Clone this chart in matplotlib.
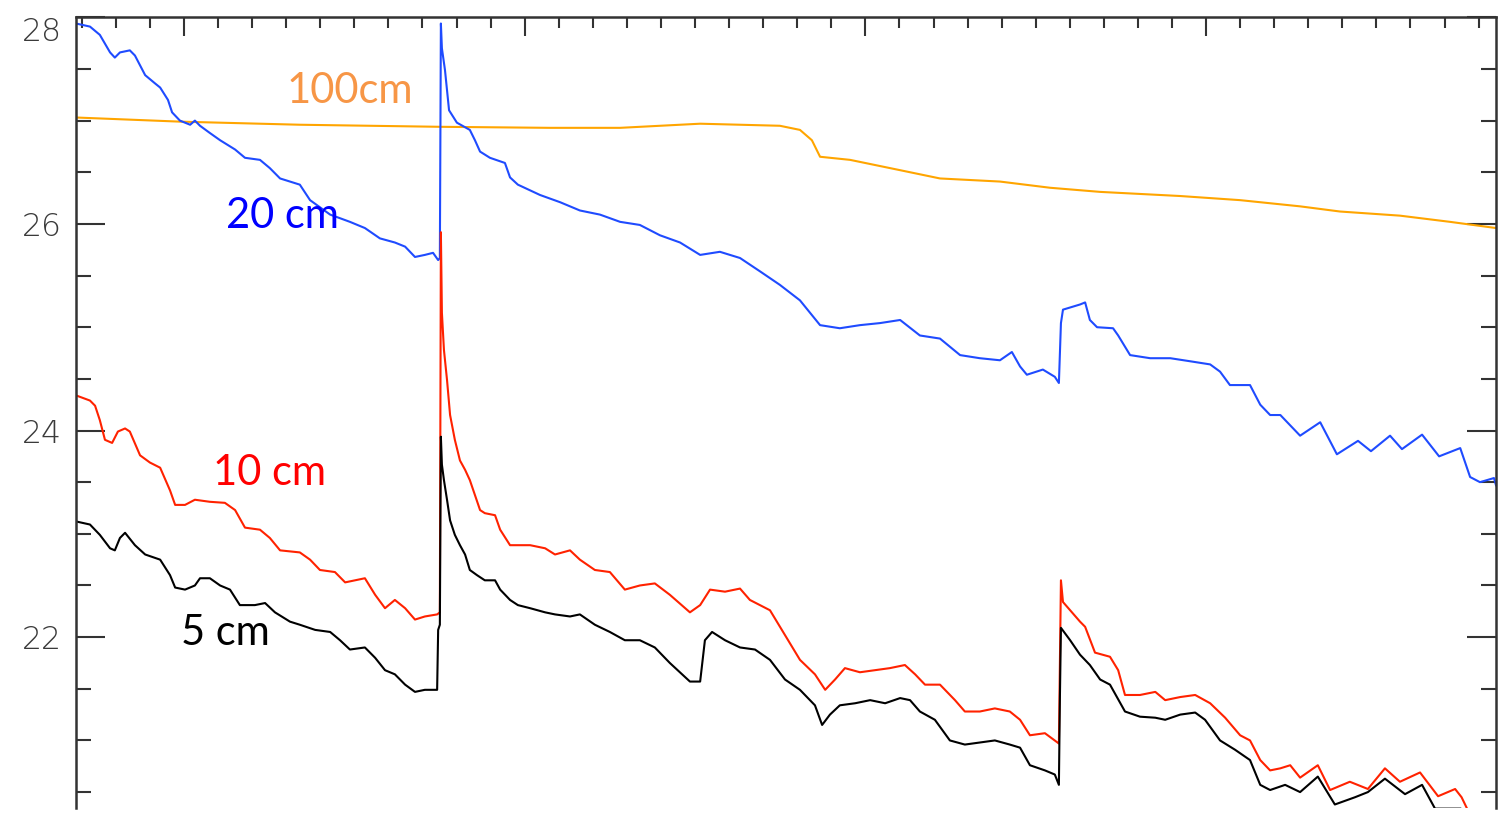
import matplotlib
matplotlib.use("Agg")
import matplotlib.pyplot as plt
from matplotlib.ticker import MultipleLocator, FixedLocator

# ---------------- data (day, temperature degC) ----------------
x_100 = [146.83, 149.88, 153.40, 157.51, 160.74, 162.80, 165.15, 167.49, 168.08,
         168.43, 168.67, 169.55, 171.02, 172.19, 173.95, 175.42, 176.89, 179.24,
         181.00, 182.76, 183.93, 185.69, 187.16, 188.51]
t_100 = [27.03, 26.99, 26.96, 26.94, 26.93, 26.93, 26.97, 26.95, 26.91,
         26.81, 26.65, 26.62, 26.52, 26.44, 26.41, 26.35, 26.31, 26.27,
         26.23, 26.17, 26.12, 26.08, 26.02, 25.96]

x_20 = [146.83, 147.24, 147.53, 147.83, 147.97, 148.12, 148.41, 148.56, 148.86,
        149.15, 149.30, 149.53, 149.65, 149.88, 150.18, 150.32, 150.47, 150.76,
        151.06, 151.50, 151.79, 152.23, 152.52, 152.82, 153.11, 153.40, 153.70,
        154.29, 154.87, 155.31, 155.75, 156.19, 156.49, 156.78, 157.07, 157.31,
        157.46, 157.51, 157.54, 157.57, 157.66, 157.78, 158.01, 158.39, 158.54,
        158.69, 158.98, 159.42, 159.57, 159.80, 160.45, 161.04, 161.62, 162.21,
        162.80, 163.38, 163.97, 164.56, 165.15, 165.73, 166.32, 166.91, 167.49,
        168.08, 168.67, 169.25, 169.84, 170.43, 171.02, 171.60, 172.19, 172.78,
        173.36, 173.95, 174.30, 174.54, 174.74, 175.21, 175.56, 175.68, 175.74,
        175.80, 176.30, 176.45, 176.59, 176.80, 177.27, 177.42, 177.77, 178.36,
        178.95, 179.54, 180.12, 180.41, 180.70, 181.29, 181.59, 181.88, 182.18,
        182.76, 183.35, 183.84, 184.46, 184.84, 185.40, 185.75, 186.34, 186.84,
        187.46, 187.75, 188.04, 188.45, 188.51]
t_20 = [27.94, 27.91, 27.83, 27.66, 27.61, 27.66, 27.68, 27.63, 27.44,
        27.36, 27.32, 27.20, 27.08, 27.00, 26.96, 27.00, 26.95, 26.88,
        26.81, 26.72, 26.64, 26.62, 26.54, 26.44, 26.41, 26.38, 26.23,
        26.09, 26.02, 25.96, 25.86, 25.82, 25.78, 25.68, 25.70, 25.72,
        25.65, 25.67, 27.94, 27.70, 27.49, 27.10, 26.98, 26.91, 26.81,
        26.70, 26.64, 26.59, 26.45, 26.38, 26.28, 26.21, 26.13, 26.09,
        26.02, 25.99, 25.89, 25.82, 25.70, 25.73, 25.67, 25.54, 25.41,
        25.26, 25.02, 24.99, 25.02, 25.04, 25.07, 24.92, 24.89, 24.73,
        24.70, 24.68, 24.76, 24.62, 24.54, 24.59, 24.52, 24.46, 25.04,
        25.17, 25.22, 25.24, 25.07, 25.00, 24.99, 24.92, 24.73, 24.70,
        24.70, 24.67, 24.64, 24.57, 24.44, 24.44, 24.25, 24.15, 24.15,
        23.95, 24.08, 23.77, 23.90, 23.80, 23.95, 23.82, 23.96, 23.75,
        23.83, 23.55, 23.50, 23.54, 23.47]

x_10 = [146.83, 147.24, 147.39, 147.53, 147.68, 147.89, 148.06, 148.27, 148.41,
        148.71, 149.00, 149.30, 149.59, 149.74, 150.03, 150.32, 150.76, 151.20,
        151.50, 151.79, 152.23, 152.52, 152.82, 153.40, 153.70, 153.99, 154.43,
        154.73, 155.02, 155.31, 155.61, 155.90, 156.19, 156.49, 156.78, 157.07,
        157.43, 157.51, 157.54, 157.57, 157.63, 157.72, 157.81, 157.95, 158.10,
        158.25, 158.39, 158.69, 158.83, 159.13, 159.28, 159.57, 159.86, 160.16,
        160.60, 160.89, 161.33, 161.62, 162.06, 162.50, 162.94, 163.38, 163.82,
        164.26, 164.85, 165.15, 165.44, 165.88, 166.32, 166.61, 167.20, 167.64,
        168.08, 168.52, 168.82, 169.11, 169.40, 169.84, 170.28, 170.72, 171.16,
        171.46, 171.75, 172.19, 172.63, 172.92, 173.36, 173.80, 174.24, 174.54,
        174.83, 175.27, 175.56, 175.68, 175.74, 175.80, 176.01, 176.30, 176.45,
        176.74, 177.18, 177.42, 177.62, 178.06, 178.51, 178.80, 179.24, 179.68,
        180.12, 180.56, 181.00, 181.29, 181.59, 181.88, 182.18, 182.47, 182.76,
        183.28, 183.64, 184.22, 184.75, 185.25, 185.69, 186.28, 186.81, 187.31,
        187.50, 187.69]
t_10 = [24.34, 24.29, 24.24, 24.10, 23.91, 23.88, 23.99, 24.02, 23.99,
        23.76, 23.69, 23.64, 23.42, 23.28, 23.28, 23.33, 23.31, 23.30,
        23.23, 23.06, 23.04, 22.96, 22.84, 22.82, 22.75, 22.65, 22.63,
        22.53, 22.55, 22.57, 22.41, 22.28, 22.36, 22.28, 22.17, 22.20,
        22.22, 22.24, 25.92, 25.14, 24.78, 24.49, 24.15, 23.91, 23.71,
        23.62, 23.52, 23.23, 23.20, 23.18, 23.04, 22.89, 22.89, 22.89,
        22.86, 22.80, 22.84, 22.75, 22.65, 22.63, 22.46, 22.50, 22.52,
        22.41, 22.24, 22.31, 22.46, 22.44, 22.47, 22.36, 22.26, 22.02,
        21.78, 21.64, 21.49, 21.59, 21.70, 21.66, 21.68, 21.70, 21.73,
        21.64, 21.54, 21.54, 21.39, 21.28, 21.28, 21.31, 21.28, 21.20,
        21.05, 21.07, 21.00, 20.97, 22.55, 22.34, 22.26, 22.15, 22.10,
        21.85, 21.81, 21.68, 21.44, 21.44, 21.47, 21.39, 21.42, 21.44,
        21.36, 21.22, 21.05, 21.00, 20.81, 20.71, 20.73, 20.76, 20.64,
        20.76, 20.52, 20.60, 20.53, 20.73, 20.60, 20.69, 20.46, 20.53,
        20.45, 20.32]

x_5 = [146.83, 147.24, 147.53, 147.83, 147.97, 148.12, 148.27, 148.56, 148.86,
       149.30, 149.59, 149.74, 150.03, 150.32, 150.47, 150.76, 151.06, 151.35,
       151.64, 152.08, 152.38, 152.67, 153.11, 153.40, 153.85, 154.29, 154.58,
       154.87, 155.31, 155.61, 155.90, 156.19, 156.49, 156.78, 157.07, 157.43,
       157.46, 157.51, 157.54, 157.57, 157.63, 157.72, 157.81, 157.95, 158.10,
       158.25, 158.39, 158.60, 158.83, 159.13, 159.28, 159.57, 159.80, 160.16,
       160.60, 160.89, 161.33, 161.62, 162.06, 162.50, 162.94, 163.38, 163.82,
       164.26, 164.85, 165.15, 165.29, 165.50, 165.88, 166.32, 166.76, 167.20,
       167.64, 168.08, 168.52, 168.73, 168.96, 169.25, 169.70, 170.14, 170.58,
       171.02, 171.31, 171.60, 172.04, 172.48, 172.92, 173.36, 173.80, 174.24,
       174.54, 174.83, 175.27, 175.56, 175.68, 175.71, 175.74, 176.01, 176.30,
       176.59, 176.89, 177.18, 177.62, 178.06, 178.51, 178.80, 179.24, 179.68,
       179.97, 180.41, 180.85, 181.29, 181.59, 181.88, 182.32, 182.76, 183.28,
       183.78, 184.37, 184.75, 185.25, 185.84, 186.34, 186.72, 187.46]
t_5 = [23.12, 23.09, 22.99, 22.86, 22.84, 22.96, 23.01, 22.89, 22.80,
       22.75, 22.60, 22.48, 22.46, 22.50, 22.57, 22.57, 22.50, 22.46,
       22.31, 22.31, 22.33, 22.24, 22.15, 22.12, 22.07, 22.05, 21.97,
       21.88, 21.90, 21.80, 21.68, 21.64, 21.54, 21.47, 21.49, 21.49,
       22.07, 22.12, 23.94, 23.67, 23.52, 23.33, 23.13, 22.99, 22.89,
       22.80, 22.65, 22.60, 22.55, 22.55, 22.46, 22.36, 22.31, 22.28,
       22.24, 22.22, 22.20, 22.22, 22.12, 22.05, 21.97, 21.97, 21.90,
       21.75, 21.57, 21.57, 21.97, 22.05, 21.97, 21.90, 21.88, 21.78,
       21.59, 21.49, 21.34, 21.15, 21.25, 21.34, 21.36, 21.39, 21.36,
       21.41, 21.39, 21.28, 21.20, 21.00, 20.96, 20.98, 21.00, 20.96,
       20.93, 20.76, 20.71, 20.67, 20.57, 21.42, 22.09, 21.97, 21.83,
       21.73, 21.59, 21.54, 21.28, 21.23, 21.22, 21.20, 21.25, 21.27,
       21.20, 21.00, 20.91, 20.81, 20.57, 20.52, 20.57, 20.50, 20.65,
       20.38, 20.45, 20.50, 20.63, 20.48, 20.57, 20.34, 20.34]

y_ticks = [22, 24, 26, 28]
x_ticks = [150, 160, 170, 180]
labels = ["100cm", "20 cm", "10 cm", "5 cm"]

# ---------------- figure ----------------
W, H = 1501, 817
fig = plt.figure(figsize=(W / 100, H / 100), dpi=100)
ax = fig.add_axes([76 / W, (H - 808) / H, (1496 - 76) / W, (808 - 17.3) / H])

ax.plot(x_100, t_100, color="#FFA500", lw=1.5)
ax.plot(x_20, t_20, color="#1F4BFF", lw=1.5)
ax.plot(x_10, t_10, color="#FF2200", lw=1.5)
ax.plot(x_5, t_5, color="black", lw=1.5)

ax.set_xlim(146.83, 188.51)
ax.set_ylim(20.346, 28.0)

ax.yaxis.set_major_locator(FixedLocator(y_ticks))
ax.yaxis.set_minor_locator(MultipleLocator(0.5))
ax.xaxis.set_major_locator(FixedLocator(x_ticks))
ax.xaxis.set_minor_locator(MultipleLocator(1))

spine_c = "#333333"
for s in ["left", "right", "top"]:
    ax.spines[s].set_color(spine_c)
    ax.spines[s].set_linewidth(1.8)
ax.spines["bottom"].set_visible(False)

ax.tick_params(axis="y", which="both", direction="in", left=True, right=True,
               labelleft=True, labelright=False, color=spine_c, width=1.5)
ax.tick_params(axis="y", which="major", length=21, pad=10,
               labelsize=22.7, labelcolor="#3a3a3a")
ax.tick_params(axis="y", which="minor", length=11)
ax.tick_params(axis="x", which="both", direction="in", top=True, bottom=False,
               labelbottom=False, labeltop=False, color=spine_c, width=1.5)
ax.tick_params(axis="x", which="major", length=14)
ax.tick_params(axis="x", which="minor", length=8)

for lab in ax.get_yticklabels():
    lab.set_fontfamily("DejaVu Sans")
    lab.set_fontweight("light")
fig.canvas.draw()
for tk in ax.yaxis.get_major_ticks():
    if abs(tk.get_loc() - 28) < 1e-6:
        tk.label1.set_verticalalignment("top")

txt_font = "Lato"
fig.text(350 / W, 1 - 103 / H, labels[0], color="#F79646", fontsize=30,
         family=txt_font, ha="center", va="baseline")
fig.text(283 / W, 1 - 228 / H, labels[1], color="#0000FF", fontsize=30,
         family=txt_font, ha="center", va="baseline")
fig.text(270 / W, 1 - 485 / H, labels[2], color="#FF0000", fontsize=30,
         family=txt_font, ha="center", va="baseline")
fig.text(225 / W, 1 - 645 / H, labels[3], color="black", fontsize=30,
         family=txt_font, ha="center", va="baseline")

fig.savefig("out.png", dpi=100)
